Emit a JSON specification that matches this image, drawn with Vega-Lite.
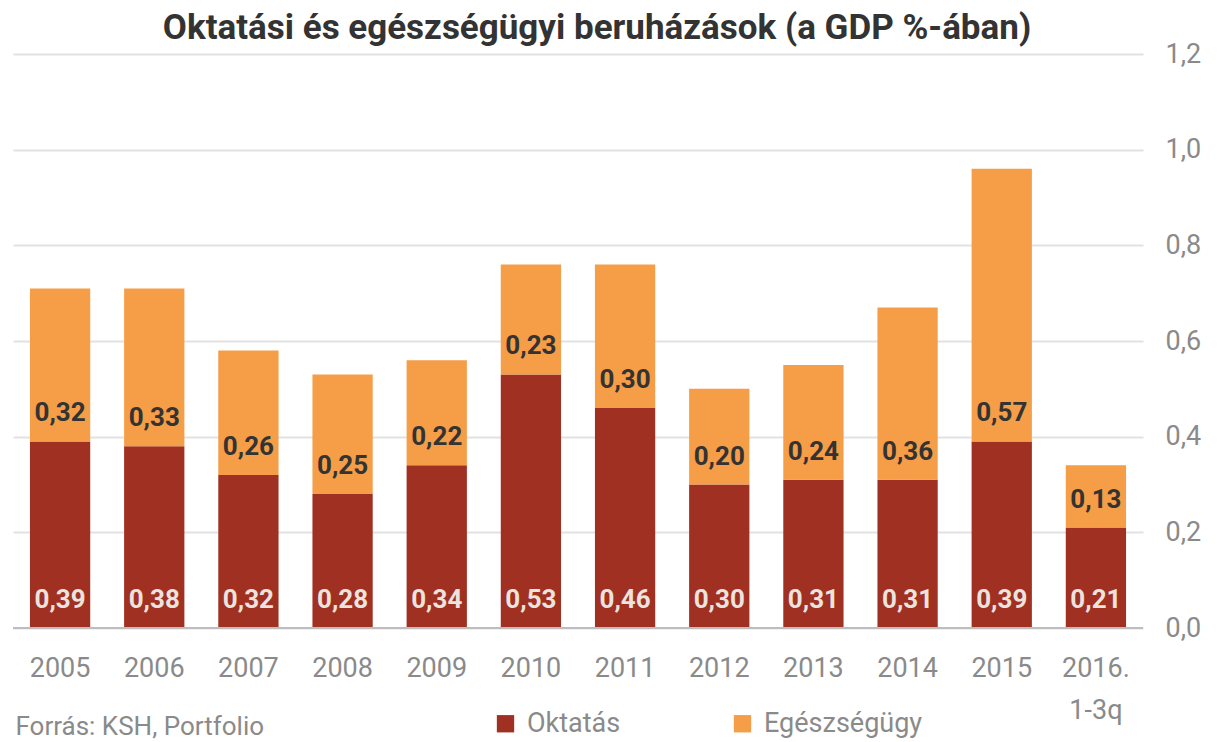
{
  "$schema": "https://vega.github.io/schema/vega-lite/v6.json",
  "width": 1130,
  "height": 574,
  "autosize": {"type": "none"},
  "padding": {"left": 13, "top": 54, "right": 74, "bottom": 114},
  "background": "white",
  "config": {
    "font": "Roboto",
    "view": {"stroke": null},
    "locale": {"number": {"decimal": ",", "thousands": " ", "grouping": [3], "currency": ["", " Ft"]}}
  },
  "title": {
    "text": "Oktatási és egészségügyi beruházások (a GDP %-ában)",
    "fontSize": 35,
    "fontWeight": "bold",
    "color": "#333333",
    "font": "Roboto",
    "anchor": "middle",
    "dx": 19,
    "offset": -6
  },
  "data": {
    "values": [
      {"year": "2005", "series": "Oktatás", "ord": 1, "value": 0.39},
      {"year": "2005", "series": "Egészségügy", "ord": 2, "value": 0.32},
      {"year": "2006", "series": "Oktatás", "ord": 1, "value": 0.38},
      {"year": "2006", "series": "Egészségügy", "ord": 2, "value": 0.33},
      {"year": "2007", "series": "Oktatás", "ord": 1, "value": 0.32},
      {"year": "2007", "series": "Egészségügy", "ord": 2, "value": 0.26},
      {"year": "2008", "series": "Oktatás", "ord": 1, "value": 0.28},
      {"year": "2008", "series": "Egészségügy", "ord": 2, "value": 0.25},
      {"year": "2009", "series": "Oktatás", "ord": 1, "value": 0.34},
      {"year": "2009", "series": "Egészségügy", "ord": 2, "value": 0.22},
      {"year": "2010", "series": "Oktatás", "ord": 1, "value": 0.53},
      {"year": "2010", "series": "Egészségügy", "ord": 2, "value": 0.23},
      {"year": "2011", "series": "Oktatás", "ord": 1, "value": 0.46},
      {"year": "2011", "series": "Egészségügy", "ord": 2, "value": 0.30},
      {"year": "2012", "series": "Oktatás", "ord": 1, "value": 0.30},
      {"year": "2012", "series": "Egészségügy", "ord": 2, "value": 0.20},
      {"year": "2013", "series": "Oktatás", "ord": 1, "value": 0.31},
      {"year": "2013", "series": "Egészségügy", "ord": 2, "value": 0.24},
      {"year": "2014", "series": "Oktatás", "ord": 1, "value": 0.31},
      {"year": "2014", "series": "Egészségügy", "ord": 2, "value": 0.36},
      {"year": "2015", "series": "Oktatás", "ord": 1, "value": 0.39},
      {"year": "2015", "series": "Egészségügy", "ord": 2, "value": 0.57},
      {"year": "2016. 1-3q", "series": "Oktatás", "ord": 1, "value": 0.21},
      {"year": "2016. 1-3q", "series": "Egészségügy", "ord": 2, "value": 0.13}
    ]
  },
  "transform": [
    {"stack": "value", "groupby": ["year"], "sort": [{"field": "ord", "order": "ascending"}], "as": ["v0", "v1"]}
  ],
  "encoding": {
    "x": {
      "field": "year",
      "type": "nominal",
      "sort": null,
      "scale": {"paddingInner": 0.36, "paddingOuter": 0.18},
      "axis": {
        "title": "Forrás: KSH, Portfolio",
        "titleX": 2,
        "titleY": 98,
        "titleAlign": "left",
        "titleAnchor": "start",
        "titleBaseline": "middle",
        "titleFontSize": 26,
        "titleFontWeight": "normal",
        "titleColor": "#8a8a8a",
        "labelAngle": 0,
        "labelFontSize": 27,
        "labelColor": "#8a8a8a",
        "labelPadding": 27,
        "labelLineHeight": 42,
        "labelExpr": "split(datum.label, ' ')",
        "domain": false,
        "ticks": false,
        "grid": false
      }
    }
  },
  "layer": [
    {
      "mark": {"type": "bar"},
      "encoding": {
        "y": {
          "field": "v0",
          "type": "quantitative",
          "scale": {"domain": [0, 1.2], "nice": false},
          "axis": {
            "orient": "right",
            "title": null,
            "values": [0, 0.2, 0.4, 0.6, 0.8, 1.0, 1.2],
            "format": ".1f",
            "labelFontSize": 27,
            "labelColor": "#8a8a8a",
            "labelPadding": 22,
            "domain": false,
            "ticks": false,
            "grid": true,
            "gridColor": "#e2e2e2",
            "gridWidth": 2
          }
        },
        "y2": {"field": "v1"},
        "color": {
          "field": "series",
          "type": "nominal",
          "sort": ["Oktatás", "Egészségügy"],
          "scale": {"domain": ["Oktatás", "Egészségügy"], "range": ["#a03021", "#f59d47"]},
          "legend": {
            "title": null,
            "orient": "none",
            "legendX": 479,
            "legendY": 656,
            "direction": "horizontal",
            "symbolType": "square",
            "symbolSize": 300,
            "symbolStrokeWidth": 0,
            "labelFontSize": 27,
            "labelColor": "#8a8a8a",
            "labelOffset": 8,
            "columnPadding": 108
          }
        }
      }
    },
    {
      "mark": {"type": "rule", "color": "#bdbdbd", "strokeWidth": 2},
      "encoding": {"y": {"datum": 0}, "x": null}
    },
    {
      "mark": {"type": "text", "fontSize": 26, "fontWeight": "bold", "baseline": "middle", "dy": -28},
      "encoding": {
        "y": {"field": "v0", "type": "quantitative"},
        "text": {"field": "value", "type": "quantitative", "format": ".2f"},
        "color": {
          "condition": {"test": "datum.series === 'Oktatás'", "value": "#ebe3df"},
          "value": "#333333"
        }
      }
    }
  ]
}
